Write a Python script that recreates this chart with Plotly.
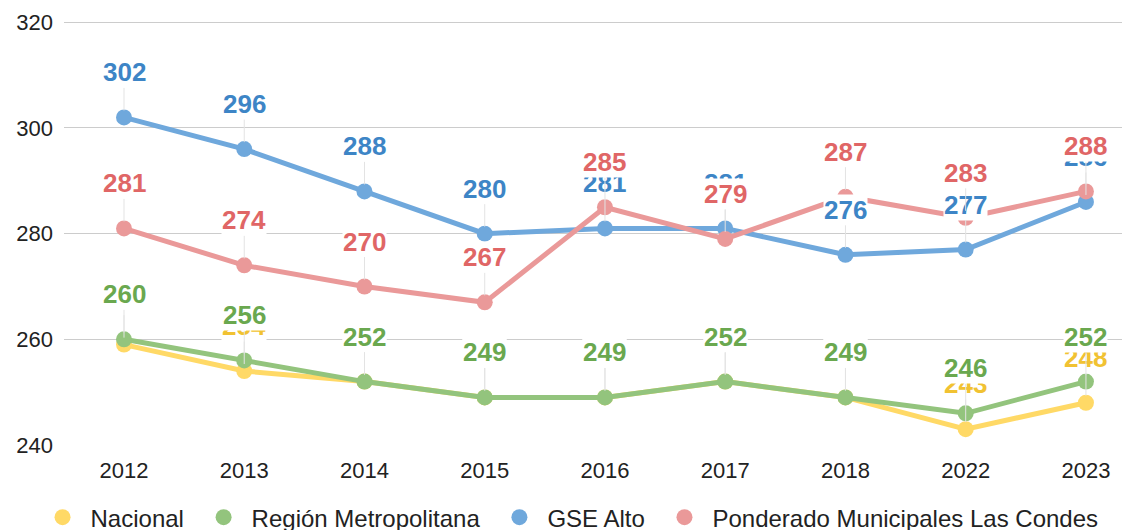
import plotly.graph_objects as go

years = ["2012", "2013", "2014", "2015", "2016", "2017", "2018", "2022", "2023"]
nacional = [259, 254, 252, 249, 249, 252, 249, 243, 248]
region_metropolitana = [260, 256, 252, 249, 249, 252, 249, 246, 252]
gse_alto = [302, 296, 288, 280, 281, 281, 276, 277, 286]
ponderado_las_condes = [281, 274, 270, 267, 285, 279, 287, 283, 288]

series = [
    ("Nacional", nacional, "#ffd966", "#f1c232"),
    ("Región Metropolitana", region_metropolitana, "#93c47d", "#6aa84f"),
    ("GSE Alto", gse_alto, "#6fa8dc", "#3d85c6"),
    ("Ponderado Municipales Las Condes", ponderado_las_condes, "#ea9999", "#e06666"),
]

FONT = "Liberation Sans, Arial, sans-serif"

fig = go.Figure()
annotations = []
for name, vals, line_c, text_c in series:
    fig.add_trace(go.Scatter(
        x=years, y=vals, name=name, mode="lines+markers",
        line=dict(color=line_c, width=5),
        marker=dict(color=line_c, size=16),
        showlegend=False, legendgroup=name,
    ))
    for i, v in enumerate(vals):
        annotations.append(dict(
            x=i, y=v, xref="x", yref="y", text=f"<b>{v}</b>",
            showarrow=True, arrowhead=0, arrowwidth=1, arrowcolor="#e3e3e3",
            ax=0, ay=-45, standoff=7, bgcolor="white", borderpad=0,
            font=dict(family=FONT, size=26, color=text_c),
        ))

# legend entries: circle markers only
for name, vals, line_c, text_c in series:
    fig.add_trace(go.Scatter(
        x=[None], y=[None], name=name + "\u00a0", mode="markers",
        marker=dict(color=line_c, size=19), legendgroup=name,
        showlegend=True,
    ))

fig.update_layout(
    width=1130, height=530,
    margin=dict(l=56, r=0, t=13, b=93, autoexpand=False),
    paper_bgcolor="white", plot_bgcolor="white",
    font=dict(family=FONT, size=22, color="#222222"),
    annotations=annotations,
    showlegend=True,
    legend=dict(
        orientation="h", x=0.4735, xanchor="center", y=-0.118, yanchor="top",
        font=dict(family=FONT, size=24, color="#222222"),
        itemwidth=46, traceorder="normal",
    ),
    xaxis=dict(
        type="category", range=[-0.499, 8.433],
        showgrid=False, zeroline=False, showline=False,
        ticks="", ticklabelstandoff=10,
        tickfont=dict(family=FONT, size=22, color="#222222"),
    ),
    yaxis=dict(
        range=[240, 320.25], tickvals=[240, 260, 280, 300, 320],
        showgrid=True, gridcolor="#cccccc", gridwidth=1,
        zeroline=False, showline=False, ticks="", ticklabelstandoff=10,
        tickfont=dict(family=FONT, size=22, color="#222222"),
    ),
)

fig.write_html("out.html")
